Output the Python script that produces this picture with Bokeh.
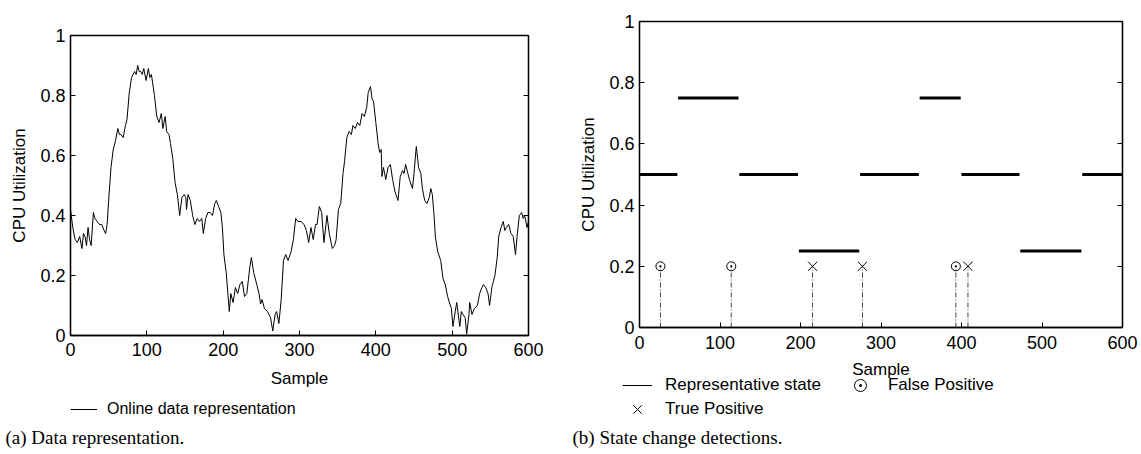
from bokeh.plotting import figure
from bokeh.models import (LinearAxis, FixedTicker, NumeralTickFormatter, CustomJSTickFormatter,
                          Legend, LegendItem, Label, Range1d, ColumnDataSource, InlineStyleSheet)
from bokeh.embed import file_html
from bokeh.resources import INLINE

# ---------------- data ----------------
x_ticks = [0, 100, 200, 300, 400, 500, 600]
y_ticks = [0, 0.2, 0.4, 0.6, 0.8, 1]

sample = [0, 3, 6, 9, 12, 15, 17, 19, 21, 23, 25, 27, 30, 32, 35, 38, 41, 44, 46, 48,
          50, 53, 56, 59, 62, 64, 66, 69, 72, 74, 77, 80, 82, 84, 86, 88, 90, 92, 94, 96,
          99, 102, 104, 106, 110, 113, 116, 119, 121, 124, 126, 129, 131, 134, 137, 140, 143, 146, 149, 151,
          152, 154, 157, 160, 163, 166, 169, 172, 174, 177, 180, 183, 186, 189, 191, 194, 197, 199, 201, 204,
          208, 210, 213, 216, 219, 222, 225, 228, 231, 235, 237, 240, 244, 247, 249, 251, 254, 258, 262, 265,
          268, 270, 273, 276, 279, 282, 285, 289, 292, 295, 298, 302, 306, 309, 312, 315, 318, 321, 323, 326,
          329, 332, 336, 339, 343, 346, 348, 351, 354, 357, 359, 362, 365, 368, 370, 373, 376, 379, 382, 385,
          388, 390, 393, 395, 397, 400, 403, 405, 407, 408, 410, 413, 416, 419, 422, 425, 429, 432, 435, 437,
          439, 442, 444, 448, 450, 453, 456, 459, 461, 464, 467, 470, 472, 474, 476, 478, 481, 485, 488, 491,
          494, 497, 499, 501, 504, 506, 509, 510, 512, 514, 517, 519, 522, 523, 526, 529, 533, 536, 539, 541,
          544, 547, 549, 552, 554, 556, 559, 561, 564, 567, 569, 571, 574, 577, 580, 583, 585, 588, 591, 593,
          595, 598, 600]
cpu = [0.42, 0.36, 0.32, 0.31, 0.33, 0.29, 0.34, 0.33, 0.30, 0.36, 0.32, 0.30, 0.41, 0.39, 0.38, 0.37, 0.37, 0.35, 0.34, 0.37,
       0.45, 0.56, 0.62, 0.65, 0.69, 0.67, 0.67, 0.66, 0.70, 0.72, 0.81, 0.86, 0.87, 0.88, 0.87, 0.90, 0.88, 0.88, 0.87, 0.89,
       0.85, 0.89, 0.86, 0.87, 0.80, 0.73, 0.71, 0.74, 0.69, 0.73, 0.68, 0.67, 0.64, 0.59, 0.51, 0.47, 0.40, 0.46, 0.47, 0.46,
       0.42, 0.47, 0.45, 0.40, 0.37, 0.39, 0.38, 0.39, 0.34, 0.39, 0.41, 0.41, 0.40, 0.44, 0.45, 0.43, 0.41, 0.36, 0.27, 0.21,
       0.08, 0.14, 0.11, 0.16, 0.14, 0.17, 0.18, 0.13, 0.14, 0.23, 0.26, 0.21, 0.17, 0.14, 0.105, 0.12, 0.09, 0.08, 0.06, 0.015,
       0.07, 0.08, 0.04, 0.12, 0.25, 0.27, 0.25, 0.28, 0.32, 0.39, 0.38, 0.38, 0.37, 0.35, 0.31, 0.36, 0.32, 0.37, 0.37, 0.43,
       0.41, 0.31, 0.40, 0.34, 0.29, 0.30, 0.32, 0.42, 0.44, 0.54, 0.58, 0.66, 0.68, 0.67, 0.70, 0.69, 0.71, 0.70, 0.74, 0.73,
       0.76, 0.81, 0.83, 0.79, 0.78, 0.71, 0.64, 0.61, 0.62, 0.53, 0.56, 0.52, 0.56, 0.57, 0.52, 0.48, 0.45, 0.53, 0.55, 0.54,
       0.57, 0.54, 0.52, 0.49, 0.54, 0.63, 0.56, 0.54, 0.49, 0.45, 0.44, 0.46, 0.49, 0.47, 0.41, 0.33, 0.28, 0.25, 0.19, 0.17,
       0.13, 0.105, 0.09, 0.03, 0.08, 0.11, 0.05, 0.03, 0.08, 0.07, 0.06, 0.005, 0.07, 0.11, 0.07, 0.09, 0.10, 0.14, 0.16, 0.17,
       0.16, 0.14, 0.10, 0.16, 0.18, 0.20, 0.26, 0.33, 0.36, 0.38, 0.35, 0.36, 0.37, 0.34, 0.33, 0.27, 0.33, 0.40, 0.41, 0.39,
       0.40, 0.36, 0.38]

state_start = [0, 48, 124, 198, 274, 348, 400, 473, 550]
state_end = [47, 123, 197, 273, 347, 399, 472, 549, 600]
state_value = [0.5, 0.75, 0.5, 0.25, 0.5, 0.75, 0.5, 0.25, 0.5]

false_pos_x = [26, 114, 393]
true_pos_x = [215, 277, 408]
detect_level = 0.2

FONT = "Liberation Sans"
SERIF = "Liberation Serif"


def place(left, top):
    css = (":host { position: absolute !important; left: %dpx !important; "
           "top: %dpx !important; margin: 0 !important; }" % (left, top))
    return [InlineStyleSheet(css=css)]


def style(p):
    p.xaxis.ticker = FixedTicker(ticks=x_ticks)
    p.yaxis.ticker = FixedTicker(ticks=y_ticks)
    p.yaxis.formatter = NumeralTickFormatter(format="0.[0]")
    for ax in (p.xaxis[0], p.yaxis[0]):
        ax.major_tick_in = 5
        ax.major_tick_out = 0
        ax.minor_tick_in = 0
        ax.minor_tick_out = 0
        ax.axis_line_color = "black"
        ax.axis_line_width = 1.3
        ax.major_tick_line_color = "black"
        ax.major_label_text_font = FONT
        ax.major_label_text_font_size = "18px"
        ax.major_label_text_color = "black"
        ax.axis_label_text_font = FONT
        ax.axis_label_text_font_size = "17px"
        ax.axis_label_text_font_style = "normal"
        ax.axis_label_text_color = "black"
    p.xaxis.axis_label = "Sample"
    p.yaxis.axis_label = "CPU Utilization"
    p.yaxis.major_label_standoff = 5
    p.yaxis.axis_label_standoff = 8
    right = LinearAxis(ticker=FixedTicker(ticks=y_ticks),
                       formatter=CustomJSTickFormatter(code="return ''"),
                       major_tick_in=5, major_tick_out=0, minor_tick_in=0, minor_tick_out=0,
                       axis_line_color="black", axis_line_width=1.3, major_label_standoff=0)
    p.add_layout(right, "right")
    p.xgrid.visible = False
    p.ygrid.visible = False
    p.outline_line_color = "black"
    p.outline_line_width = 1.3
    p.background_fill_color = "white"
    p.border_fill_color = "white"


def blank(width, height, left, top):
    f = figure(width=width, height=height, x_range=Range1d(0, 1), y_range=Range1d(0, 1),
               x_axis_type=None, y_axis_type=None, output_backend="svg", toolbar_location=None,
               min_border=0, stylesheets=place(left, top))
    f.outline_line_color = None
    f.background_fill_alpha = 0
    f.border_fill_alpha = 0
    return f


def legend(items, loc, h, size, glyph_w=30, standoff=13):
    return Legend(items=items, location=loc, orientation="horizontal",
                  padding=0, margin=0, spacing=24,
                  border_line_color=None, background_fill_alpha=0,
                  inactive_fill_alpha=0,
                  glyph_width=glyph_w, glyph_height=h, label_height=h, label_standoff=standoff,
                  label_text_font=FONT, label_text_font_size=size, label_text_color="black")


def caption(text, x, y):
    return Label(x=x, y=y, x_units="screen", y_units="screen", text=text,
                 text_font=SERIF, text_font_size="19px", text_baseline="middle",
                 text_color="black")


# ---------------- left panel ----------------
p1 = figure(width=570, height=392, x_range=Range1d(0, 600), y_range=Range1d(0, 1),
            output_backend="svg", toolbar_location=None,
            min_border_left=70, min_border_right=42, min_border_top=35, min_border_bottom=57,
            stylesheets=place(0, 0))
style(p1)
p1.xaxis.major_label_standoff = 7
p1.xaxis.axis_label_standoff = 10
p1.line(sample, cpu, line_color="black", line_width=1)

# legend strip (the proxy renderer is hidden; only its legend glyph shows)
l1 = blank(570, 62, 0, 392)
proxy_data = l1.line(sample, cpu, line_color="black", line_width=1, visible=False)
l1.add_layout(legend([LegendItem(label="Online data representation", renderers=[proxy_data])],
                     (70, 35), 20, "16px", glyph_w=27, standoff=10), "center")
l1.add_layout(caption("(a) Data representation.", 5, 17))

# ---------------- right panel ----------------
p2 = figure(width=571, height=381, x_range=Range1d(0, 600), y_range=Range1d(0, 1),
            output_backend="svg", toolbar_location=None,
            min_border_left=69, min_border_right=19, min_border_top=21, min_border_bottom=53,
            stylesheets=place(570, 0))
style(p2)
p2.xaxis.major_label_standoff = 8
p2.xaxis.axis_label_standoff = 8

p2.segment(x0=state_start, y0=state_value, x1=state_end, y1=state_value,
           line_color="black", line_width=3)

stem_src_fp = ColumnDataSource(dict(x=false_pos_x, y0=[0] * len(false_pos_x), y1=[detect_level] * len(false_pos_x)))
stem_src_tp = ColumnDataSource(dict(x=true_pos_x, y0=[0] * len(true_pos_x), y1=[detect_level] * len(true_pos_x)))
for src in (stem_src_fp, stem_src_tp):
    p2.segment(x0="x", y0="y0", x1="x", y1="y1", source=src,
               line_color="#444444", line_width=1, line_dash="5 2 1 2")

p2.scatter(x=false_pos_x, y=[detect_level] * len(false_pos_x), marker="circle_dot",
           size=9, line_color="black", fill_color=None, line_width=1)
p2.scatter(x=true_pos_x, y=[detect_level] * len(true_pos_x), marker="x",
           size=13, line_color="black", line_width=1)

l2 = blank(571, 82, 570, 372)
proxy_state = l2.segment(x0=state_start, y0=state_value, x1=state_end, y1=state_value,
                         line_color="black", line_width=1, visible=False)
proxy_fp = l2.scatter(x=false_pos_x, y=[detect_level] * len(false_pos_x), marker="circle_dot",
                      size=9, line_color="black", fill_color=None, line_width=1, visible=False)
proxy_tp = l2.scatter(x=true_pos_x, y=[detect_level] * len(true_pos_x), marker="x",
                      size=13, line_color="black", line_width=1, visible=False)
l2.add_layout(legend([LegendItem(label="Representative state", renderers=[proxy_state]),
                      LegendItem(label="False Positive", renderers=[proxy_fp])], (52, 54), 30, "17px"),
              "center")
l2.add_layout(legend([LegendItem(label="True Positive", renderers=[proxy_tp])], (52, 30), 30, "17px"),
              "center")
l2.add_layout(caption("(b) State change detections.", 2, 17))

open("out.html", "w").write(file_html([p1, p2, l1, l2], INLINE))
